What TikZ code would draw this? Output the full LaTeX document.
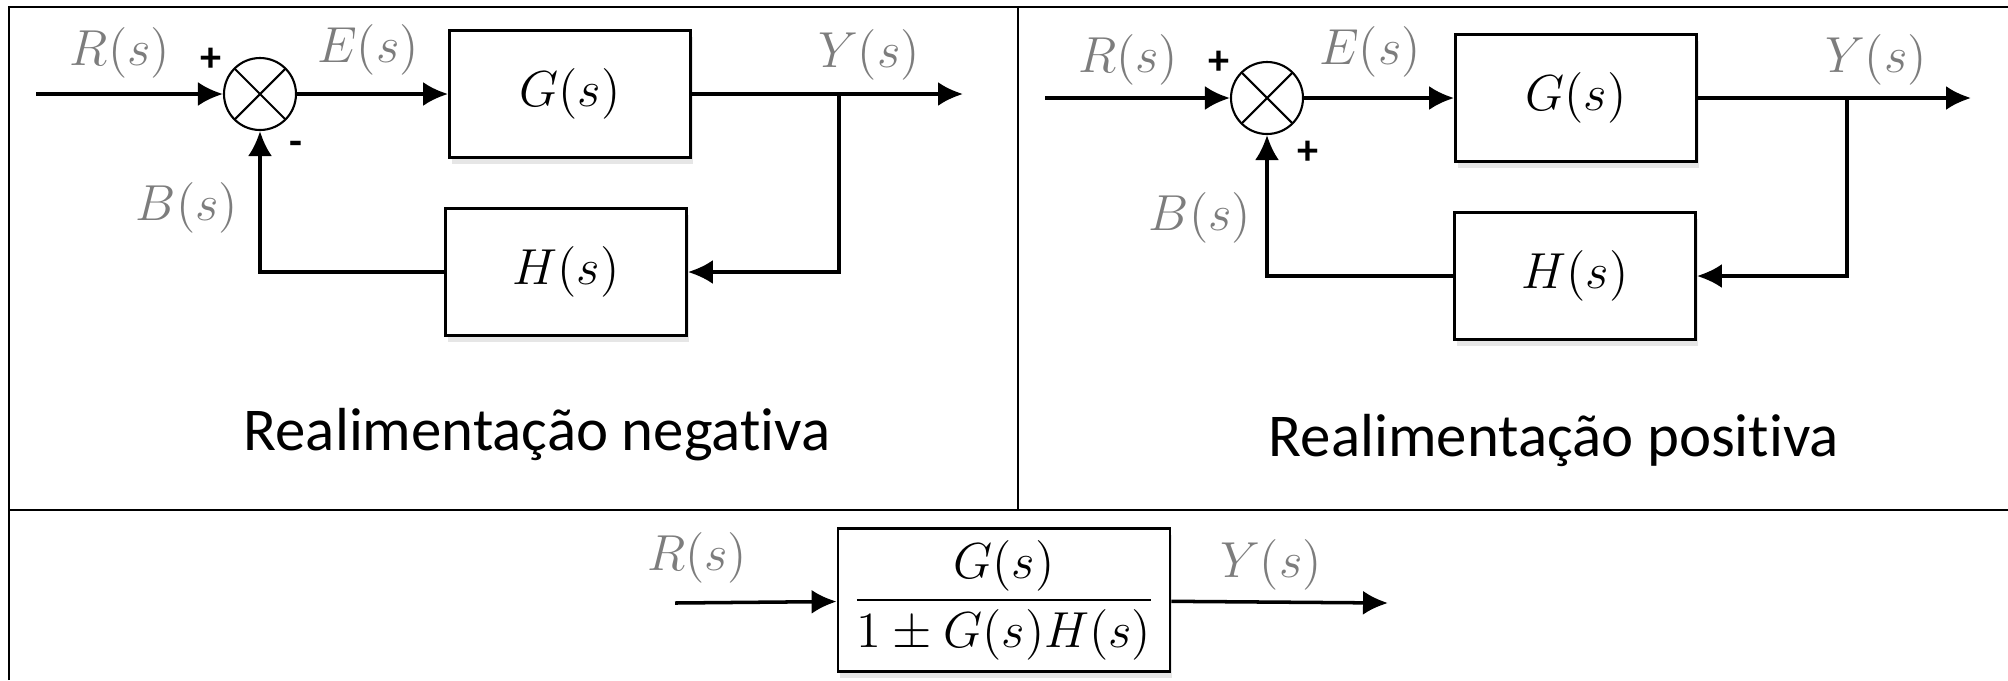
\documentclass[tikz,border=0pt]{standalone}
\usepackage{amsmath}
\usepackage{fontspec}
\setmainfont{Carlito}[Ligatures=NoCommon]
\usetikzlibrary{positioning,arrows.meta,calc,shadows}
\definecolor{lblgray}{RGB}{125,125,125}

\begin{document}
\begin{tikzpicture}[x=0.1mm,y=-0.1mm,>={Latex[length=2.5mm,width=2.4mm]},
    blk/.style={draw,line width=0.8pt,fill=white,minimum width=2.41cm,minimum height=1.27cm,font=\fontsize{14.5}{17}\selectfont,
      drop shadow={shadow xshift=0.2mm,shadow yshift=-0.6mm,opacity=0.2}},
    sum/.style={draw,circle,line width=0.6pt,minimum size=0.72cm,inner sep=0pt,
      path picture={\draw[line width=0.6pt] (path picture bounding box.north west)--(path picture bounding box.south east)
        (path picture bounding box.north east)--(path picture bounding box.south west);}},
    lbl/.style={text=lblgray,font=\fontsize{14.5}{17}\selectfont},
    sgn/.style={font=\fontsize{12}{14}\selectfont\bfseries,inner sep=0pt},
    legenda/.style={font=\fontsize{17.3}{20}\selectfont},
    sig/.style={->,line width=1pt}]
    \useasboundingbox (0,0) rectangle (2008,680);
    % moldura
    \draw[line width=0.8pt] (9,680)--(9,7)--(2008,7);
    \draw[line width=0.8pt] (9,510)--(2008,510);
    \draw[line width=0.6pt] (1018,7)--(1018,510);

    % realimentacao negativa
    \node[sum] (s1) at (260,94) {};
    \node[blk] (g1) at (570,94) {$G(s)$};
    \node[blk] (h1) at (566,272) {$H(s)$};
    \coordinate (in1) at (36,94); \coordinate (out1) at (963,94); \coordinate (br1) at (839,94);
    \draw[sig] (in1)--(s1); \draw[sig] (s1)--(g1); \draw[sig] (g1)--(out1);
    \draw[sig] (br1)|-(h1); \draw[sig] (h1)-|(s1);
    \node[lbl] (r1) at (120,53) {$R(s)$};
    \node[lbl] (e1) at (368,50) {$E(s)$};
    \node[lbl] (y1) at (869,55) {$Y(s)$};
    \node[lbl] (b1) at (187,208) {$B(s)$};
    \node[sgn] (p1) at (211,60) {+};
    \node[sgn] (m1) at (296,148) {-};
    \node[legenda] (c1) at (537,435) {Realimentação negativa};

    % realimentacao positiva
    \node[sum] (s2) at (1267,98) {};
    \node[blk] (g2) at (1576,98) {$G(s)$};
    \node[blk] (h2) at (1575,276) {$H(s)$};
    \coordinate (in2) at (1045,98); \coordinate (out2) at (1971,98); \coordinate (br2) at (1847,98);
    \draw[sig] (in2)--(s2); \draw[sig] (s2)--(g2); \draw[sig] (g2)--(out2);
    \draw[sig] (br2)|-(h2); \draw[sig] (h2)-|(s2);
    \node[lbl] (r2) at (1128,60) {$R(s)$};
    \node[lbl] (e2) at (1370,52) {$E(s)$};
    \node[lbl] (y2) at (1876,60) {$Y(s)$};
    \node[lbl] (b2) at (1200,218) {$B(s)$};
    \node[sgn] (p2) at (1219,63) {+};
    \node[sgn] (p3) at (1308,153) {+};
    \node[legenda] (c2) at (1554,440) {Realimentação positiva};

    % equivalente
    \node[blk,minimum width=3.32cm,minimum height=1.34cm] (t) at (1004,600) {$\dfrac{G(s)}{1\pm G(s)H(s)}$};
    \coordinate (in3) at (675,603); \coordinate (out3) at (1388,603);
    \draw[sig] (in3)--(t); \draw[sig] (t)--(out3);
    \node[lbl] (r3) at (697,558) {$R(s)$};
    \node[lbl] (y3) at (1271,565) {$Y(s)$};
\end{tikzpicture}
\end{document}
